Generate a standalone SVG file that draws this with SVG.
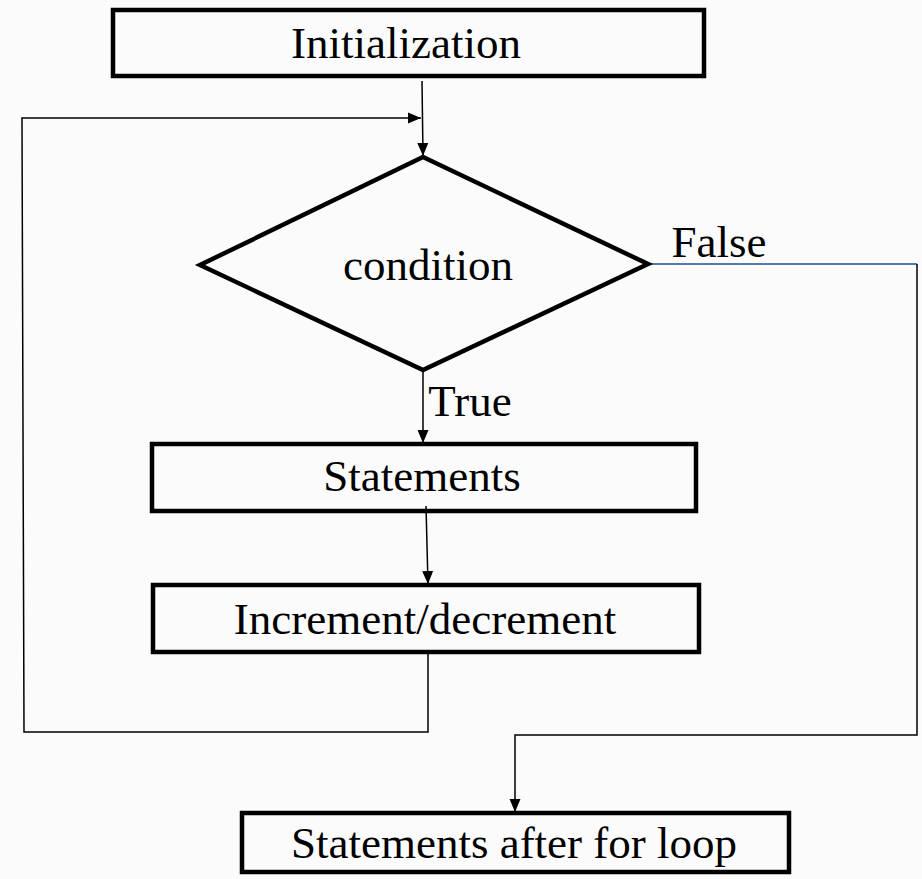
<svg xmlns="http://www.w3.org/2000/svg" width="922" height="879" viewBox="0 0 922 879">
<style>
.box{fill:none;stroke:#000;stroke-width:4.5}
.lbl{font-family:"Liberation Serif","Times New Roman",serif;font-size:45px;fill:#000;text-anchor:middle}
.c{fill:none;stroke:#000;stroke-width:1.5}
.blue{fill:none;stroke:#1f5090;stroke-width:1.6}
</style>
<defs>
<marker id="ah" markerUnits="userSpaceOnUse" markerWidth="14" markerHeight="14" viewBox="0 0 14 14" refX="13" refY="7" orient="auto">
<path d="M0,1.5 L13,7 L0,12.5 Z" fill="#000"/>
</marker>
</defs>
<rect width="922" height="879" fill="#fbfbfb"/>
<g id="connectors">
<path class="c" d="M422,81 L423,156" marker-end="url(#ah)"/>
<path class="c" d="M22,122 L22,118 L421,118" marker-end="url(#ah)"/>
<path class="c" d="M428,652 L428,732 L24,732 L22,122"/>
<path class="c" d="M423,370 L423,443" marker-end="url(#ah)"/>
<path class="c" d="M426,506 L428,584" marker-end="url(#ah)"/>
<path class="blue" d="M648,264 L917,264"/>
<path class="c" d="M917,264 L917,735 L515,735 L515,812" marker-end="url(#ah)"/>
<text class="lbl" x="719" y="257">False</text>
<text class="lbl" x="470" y="416">True</text>
</g>
<g id="init">
<rect class="box" x="113" y="10" width="591" height="66"/>
<text class="lbl" x="406" y="58">Initialization</text>
</g>
<g id="condition">
<polygon class="box" points="423,157 648,264 423,370 200,265"/>
<text class="lbl" x="428" y="280">condition</text>
</g>
<g id="statements">
<rect class="box" x="152" y="444" width="544" height="67"/>
<text class="lbl" x="422" y="491">Statements</text>
</g>
<g id="increment">
<rect class="box" x="153" y="585" width="546" height="67"/>
<text class="lbl" x="425" y="634">Increment/decrement</text>
</g>
<g id="after">
<rect class="box" x="242" y="813" width="547" height="59"/>
<text class="lbl" x="514" y="858">Statements after for loop</text>
</g>
</svg>
